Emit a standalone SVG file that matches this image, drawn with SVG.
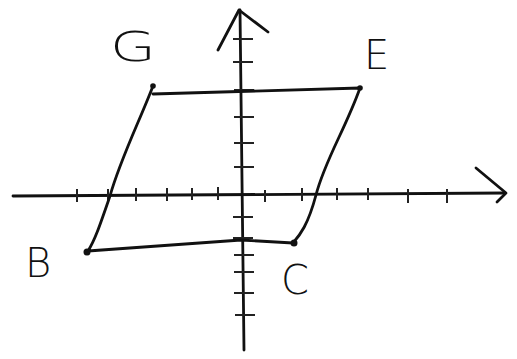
<svg xmlns="http://www.w3.org/2000/svg" width="517" height="359" viewBox="0 0 517 359">
<style>
.ln{fill:none;stroke:#111;stroke-width:2.8;stroke-linecap:round;stroke-linejoin:round}
.tk{fill:none;stroke:#222;stroke-width:2}
.lb{font-family:"DejaVu Sans","Liberation Sans",sans-serif;font-size:40px;fill:#111;font-weight:300}
.dot{fill:#111}
</style>
<rect width="517" height="359" fill="#fff"/>
<g id="axes">
<path class="ln" d="M13,196 L505,193"/>
<path class="ln" d="M476,168 L506,193 L497,202"/>
<path class="ln" d="M240,10 L244,350"/>
<path class="ln" d="M218,50 L239,10 L268,32"/>
<g class="tk">
<path d="M77,189V202M108,189V202M136,188V201M167,188V201M192,188V200M218,187V200M265,190V202M302,188V201M337,188V200M368,188V200M408,189V203M447,189V203"/>
<path d="M233,39H253M233,62H253M234,90H254M234,117H254M234,143H254M234,167H254M233,217H253M233,238H253M234,255H254M234,272H254M234,293H254M235,315H255"/>
</g>
</g>
<g id="shape">
<path class="ln" d="M153,94 L360,88 C345,130 325,160 316,195 C308,225 300,235 293,243 L241,240 L88,251 C95,240 100,225 110,196 C120,160 140,120 153,86"/>
<circle class="dot" cx="153" cy="86" r="2.8"/>
<circle class="dot" cx="360" cy="88" r="2.8"/>
<circle class="dot" cx="87" cy="252" r="3.5"/>
<circle class="dot" cx="294" cy="243" r="3.5"/>
</g>
<g id="labels">
<text class="lb" x="110" y="61" textLength="46" lengthAdjust="spacingAndGlyphs">G</text>
<text class="lb" x="364" y="69">E</text>
<text class="lb" x="25" y="277">B</text>
<text class="lb" x="281" y="294">C</text>
</g>
</svg>
